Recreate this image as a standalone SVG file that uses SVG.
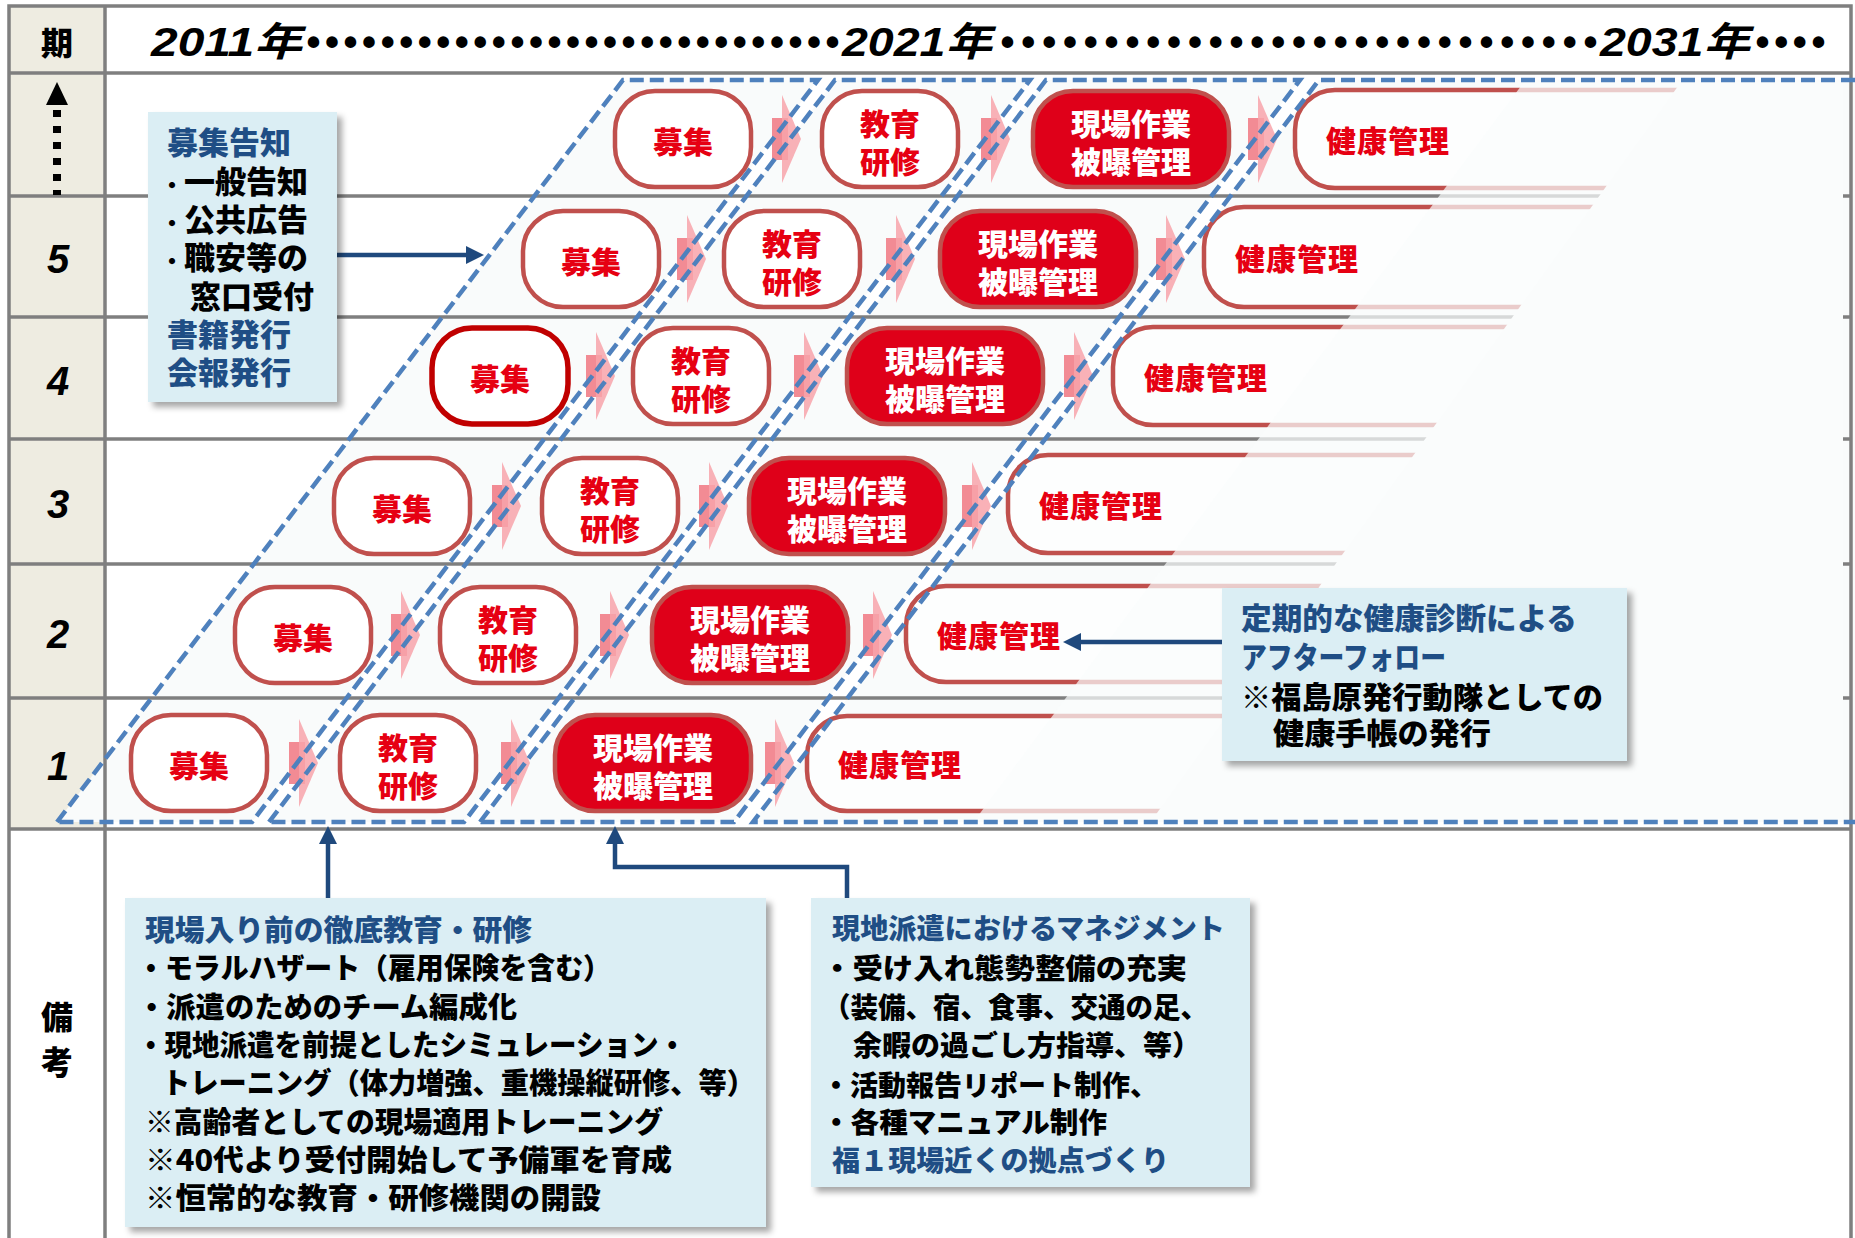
<svg xmlns="http://www.w3.org/2000/svg" width="1855" height="1238" viewBox="0 0 1855 1238">
<defs>
<style>
.grid{stroke:#7f7f7f;stroke-width:3.5;fill:none}
.nd{fill:#ffffff;stroke:#c0504d;stroke-width:4.5}
.nd4{fill:#ffffff;stroke:#c00000;stroke-width:5.5}
.ndr{fill:#df0019;stroke:#c0504d;stroke-width:4.5}
.hs{fill:#fdfefe;stroke:#c0504d;stroke-width:4.5}
.nt{font-family:"Noto Sans CJK JP","Noto Sans CJK SC",sans-serif;font-weight:900;font-size:30px;fill:#e60012;text-anchor:middle}
.nw{fill:#ffffff}
.ht{font-family:"Noto Sans CJK JP","Noto Sans CJK SC",sans-serif;font-weight:900;font-size:30px;fill:#e60012;letter-spacing:1px}
.dash{fill:none;stroke:#4f81bd;stroke-width:4.5;stroke-dasharray:14 6}
.pfill{fill:#f9fbfb}
.co{fill:#dbeef4;filter:url(#sh)}
.ct{font-family:"Noto Sans CJK JP","Noto Sans CJK SC",sans-serif;font-weight:900;fill:#000000}
.cb{fill:#1f4e85}
.conn{fill:none;stroke:#1f497d;stroke-width:4.5}
.yr{font-family:"Liberation Sans","Noto Sans CJK JP",sans-serif;font-weight:700;font-style:italic;font-size:40px;fill:#000000}
.num{font-family:"Liberation Sans",sans-serif;font-weight:700;font-style:italic;font-size:40px;fill:#000000;text-anchor:middle}
.lbl{font-family:"Noto Sans CJK JP","Noto Sans CJK SC",sans-serif;font-weight:900;font-size:32px;fill:#000000;text-anchor:middle}
</style>
<filter id="sh" x="-5%" y="-5%" width="115%" height="120%">
<feDropShadow dx="5" dy="5" stdDeviation="3" flood-color="#000000" flood-opacity="0.35"/>
</filter>
<marker id="ah" viewBox="0 0 18 18" refX="6" refY="9" markerWidth="18" markerHeight="18" markerUnits="userSpaceOnUse" orient="auto">
<path d="M0,0 L18,9 L0,18 Z" fill="#1f497d"/>
</marker>
<g id="parr">
<rect x="-14" y="-21" width="16" height="42" fill="#f28b94"/>
<polygon points="-4,-44 15,0 -4,44" fill="#f8a3aa" fill-opacity="0.85"/>
</g>
</defs>

<rect x="0" y="0" width="1855" height="1238" fill="#ffffff"/>
<rect x="9" y="6" width="96" height="823" fill="#eeece1"/>

<g id="bands-fill">
<polygon class="pfill" points="57,822 623,80 818,80 252,822"/>
<polygon class="pfill" points="269,822 835,80 1030,80 464,822"/>
<polygon class="pfill" points="480,822 1046,80 1300,80 734,822"/>
<polygon class="pfill" points="753,822 1319,80 1855,80 1855,822"/>
</g>

<g id="grid">
<rect class="grid" x="9" y="6" width="1842" height="1245"/>
<line class="grid" x1="105" y1="6" x2="105" y2="1238"/>
<line class="grid" x1="9" y1="73" x2="1851" y2="73"/>
<line class="grid" x1="9" y1="196" x2="1851" y2="196"/>
<line class="grid" x1="9" y1="317" x2="1851" y2="317"/>
<line class="grid" x1="9" y1="439" x2="1851" y2="439"/>
<line class="grid" x1="9" y1="564" x2="1851" y2="564"/>
<line class="grid" x1="9" y1="698" x2="1851" y2="698"/>
<line class="grid" x1="9" y1="829" x2="1851" y2="829"/>
</g>

<g id="header">
<text class="lbl" x="57" y="55">期</text>
<text class="yr" x="151" y="56" textLength="151" lengthAdjust="spacingAndGlyphs">2011年</text>
<text class="yr" x="306" y="56" textLength="533" lengthAdjust="spacing">•••••••••••••••••••••••••••••</text>
<text class="yr" x="842" y="56" textLength="150" lengthAdjust="spacingAndGlyphs">2021年</text>
<text class="yr" x="1000" y="56" textLength="597" lengthAdjust="spacing">•••••••••••••••••••••••••••••</text>
<text class="yr" x="1600" y="56" textLength="150" lengthAdjust="spacingAndGlyphs">2031年</text>
<text class="yr" x="1755" y="56" textLength="70" lengthAdjust="spacing">••••</text>
</g>

<g id="period-labels">
<polygon points="57,82 46,105 68,105" fill="#000000"/>
<line x1="57" y1="110" x2="57" y2="195" stroke="#000000" stroke-width="8" stroke-dasharray="7 9"/>
<text class="num" x="58" y="273">5</text>
<text class="num" x="58" y="395">4</text>
<text class="num" x="58" y="518">3</text>
<text class="num" x="58" y="648">2</text>
<text class="num" x="58" y="780">1</text>
<text class="lbl" x="57" y="1029" font-size="34">備</text>
<text class="lbl" x="57" y="1074" font-size="34">考</text>
</g>

<!-- Row 6 -->
<g id="r6-boshu"><rect class="nd" x="615" y="91" width="136" height="96" rx="40"/><text class="nt" x="683" y="153">募集</text></g>
<g id="r6-kyoiku"><rect class="nd" x="822" y="91" width="136" height="96" rx="40"/><text class="nt" x="890" y="135">教育</text><text class="nt" x="890" y="173">研修</text></g>
<g id="r6-genba"><rect class="ndr" x="1033" y="91" width="196" height="96" rx="40"/><text class="nt nw" x="1131" y="135">現場作業</text><text class="nt nw" x="1131" y="173">被曝管理</text></g>
<g id="r6-kenko"><path class="hs" d="M1843,90 H1335 A40,40 0 0 0 1295,130 V148 A40,40 0 0 0 1335,188 H1843"/><text class="ht" x="1326" y="152">健康管理</text></g>

<!-- Row 5 -->
<g id="r5-boshu"><rect class="nd" x="523" y="211" width="136" height="96" rx="40"/><text class="nt" x="591" y="273">募集</text></g>
<g id="r5-kyoiku"><rect class="nd" x="724" y="211" width="136" height="96" rx="40"/><text class="nt" x="792" y="255">教育</text><text class="nt" x="792" y="293">研修</text></g>
<g id="r5-genba"><rect class="ndr" x="940" y="211" width="196" height="96" rx="40"/><text class="nt nw" x="1038" y="255">現場作業</text><text class="nt nw" x="1038" y="293">被曝管理</text></g>
<g id="r5-kenko"><path class="hs" d="M1843,207 H1244 A40,40 0 0 0 1204,247 V267 A40,40 0 0 0 1244,307 H1843"/><text class="ht" x="1235" y="270">健康管理</text></g>

<!-- Row 4 -->
<g id="r4-boshu"><rect class="nd4" x="432" y="328" width="136" height="96" rx="40"/><text class="nt" x="500" y="390">募集</text></g>
<g id="r4-kyoiku"><rect class="nd" x="633" y="328" width="136" height="96" rx="40"/><text class="nt" x="701" y="372">教育</text><text class="nt" x="701" y="410">研修</text></g>
<g id="r4-genba"><rect class="ndr" x="847" y="328" width="196" height="96" rx="40"/><text class="nt nw" x="945" y="372">現場作業</text><text class="nt nw" x="945" y="410">被曝管理</text></g>
<g id="r4-kenko"><path class="hs" d="M1843,327 H1153 A40,40 0 0 0 1113,367 V385 A40,40 0 0 0 1153,425 H1843"/><text class="ht" x="1144" y="389">健康管理</text></g>

<!-- Row 3 -->
<g id="r3-boshu"><rect class="nd" x="334" y="458" width="136" height="96" rx="40"/><text class="nt" x="402" y="520">募集</text></g>
<g id="r3-kyoiku"><rect class="nd" x="542" y="458" width="136" height="96" rx="40"/><text class="nt" x="610" y="502">教育</text><text class="nt" x="610" y="540">研修</text></g>
<g id="r3-genba"><rect class="ndr" x="749" y="458" width="196" height="96" rx="40"/><text class="nt nw" x="847" y="502">現場作業</text><text class="nt nw" x="847" y="540">被曝管理</text></g>
<g id="r3-kenko"><path class="hs" d="M1843,455 H1048 A40,40 0 0 0 1008,495 V513 A40,40 0 0 0 1048,553 H1843"/><text class="ht" x="1039" y="517">健康管理</text></g>

<!-- Row 2 -->
<g id="r2-boshu"><rect class="nd" x="235" y="587" width="136" height="96" rx="40"/><text class="nt" x="303" y="649">募集</text></g>
<g id="r2-kyoiku"><rect class="nd" x="440" y="587" width="136" height="96" rx="40"/><text class="nt" x="508" y="631">教育</text><text class="nt" x="508" y="669">研修</text></g>
<g id="r2-genba"><rect class="ndr" x="652" y="587" width="196" height="96" rx="40"/><text class="nt nw" x="750" y="631">現場作業</text><text class="nt nw" x="750" y="669">被曝管理</text></g>
<g id="r2-kenko"><path class="hs" d="M1843,586 H946 A40,40 0 0 0 906,626 V642 A40,40 0 0 0 946,682 H1843"/><text class="ht" x="937" y="647">健康管理</text></g>

<!-- Row 1 -->
<g id="r1-boshu"><rect class="nd" x="131" y="715" width="136" height="96" rx="40"/><text class="nt" x="199" y="777">募集</text></g>
<g id="r1-kyoiku"><rect class="nd" x="340" y="715" width="136" height="96" rx="40"/><text class="nt" x="408" y="759">教育</text><text class="nt" x="408" y="797">研修</text></g>
<g id="r1-genba"><rect class="ndr" x="555" y="715" width="196" height="96" rx="40"/><text class="nt nw" x="653" y="759">現場作業</text><text class="nt nw" x="653" y="797">被曝管理</text></g>
<g id="r1-kenko"><path class="hs" d="M1843,716 H847 A40,40 0 0 0 807,756 V771 A40,40 0 0 0 847,811 H1843"/><text class="ht" x="838" y="776">健康管理</text></g>

<g id="fade">
<polygon points="1524,82 1843,82 1843,820 975,820" fill="#fafcfc" fill-opacity="0.72"/>
<polygon points="1681,82 1843,82 1843,820 1152,820" fill="#fafcfc"/>
</g>

<g id="connectors">
<use href="#parr" x="786" y="139"/><use href="#parr" x="995" y="139"/><use href="#parr" x="1262" y="139"/>
<use href="#parr" x="691" y="259"/><use href="#parr" x="900" y="259"/><use href="#parr" x="1170" y="259"/>
<use href="#parr" x="600" y="376"/><use href="#parr" x="808" y="376"/><use href="#parr" x="1078" y="376"/>
<use href="#parr" x="506" y="506"/><use href="#parr" x="713" y="506"/><use href="#parr" x="976" y="506"/>
<use href="#parr" x="405" y="635"/><use href="#parr" x="614" y="635"/><use href="#parr" x="877" y="635"/>
<use href="#parr" x="303" y="763"/><use href="#parr" x="515" y="763"/><use href="#parr" x="779" y="763"/>
<path class="conn" d="M337,255 H472" marker-end="url(#ah)"/>
<path class="conn" d="M1222,642 H1075" marker-end="url(#ah)"/>
<path class="conn" d="M328,899 V838" marker-end="url(#ah)"/>
<path class="conn" d="M847,899 V867 H615 V838" marker-end="url(#ah)"/>
</g>

<g id="bands">
<path class="dash" d="M57,822 L623,80 L818,80 L252,822 Z"/>
<path class="dash" d="M269,822 L835,80 L1030,80 L464,822 Z"/>
<path class="dash" d="M480,822 L1046,80 L1300,80 L734,822 Z"/>
<path class="dash" d="M1855,80 L1319,80 L753,822 L1855,822"/>
</g>

<g id="note-boshu">
<rect class="co" x="148" y="112" width="189" height="290"/>
<text class="ct cb" x="167" y="154" font-size="31">募集告知</text>
<text class="ct" y="193" font-size="31"><tspan x="161" font-size="22">・</tspan><tspan x="184">一般告知</tspan></text>
<text class="ct" y="231" font-size="31"><tspan x="161" font-size="22">・</tspan><tspan x="184">公共広告</tspan></text>
<text class="ct" y="269" font-size="31"><tspan x="161" font-size="22">・</tspan><tspan x="184">職安等の</tspan></text>
<text class="ct" x="190" y="308" font-size="31">窓口受付</text>
<text class="ct cb" x="167" y="346" font-size="31">書籍発行</text>
<text class="ct cb" x="167" y="384" font-size="31">会報発行</text>
</g>

<g id="note-kenko">
<rect class="co" x="1222" y="588" width="405" height="173"/>
<text class="ct cb" x="1241" y="629" font-size="30" textLength="336" lengthAdjust="spacingAndGlyphs">定期的な健康診断による</text>
<text class="ct cb" x="1241" y="668" font-size="30" textLength="205" lengthAdjust="spacingAndGlyphs">アフターフォロー</text>
<text class="ct" x="1241" y="708" font-size="30" textLength="362" lengthAdjust="spacingAndGlyphs">※福島原発行動隊としての</text>
<text class="ct" x="1273" y="744" font-size="30" textLength="218" lengthAdjust="spacingAndGlyphs">健康手帳の発行</text>
</g>

<g id="note-kyoiku">
<rect class="co" x="125" y="898" width="641" height="329"/>
<text class="ct cb" x="145" y="941" font-size="29" textLength="387" lengthAdjust="spacingAndGlyphs">現場入り前の徹底教育・研修</text>
<text class="ct" x="137" y="979" font-size="29" textLength="474" lengthAdjust="spacingAndGlyphs">・モラルハザート（雇用保険を含む）</text>
<text class="ct" x="137" y="1018" font-size="29" textLength="380" lengthAdjust="spacingAndGlyphs">・派遣のためのチーム編成化</text>
<text class="ct" x="137" y="1056" font-size="29" textLength="549" lengthAdjust="spacingAndGlyphs">・現地派遣を前提としたシミュレーション・</text>
<text class="ct" x="162" y="1094" font-size="29" textLength="593" lengthAdjust="spacingAndGlyphs">トレーニング（体力増強、重機操縦研修、等）</text>
<text class="ct" x="145" y="1133" font-size="29" textLength="518" lengthAdjust="spacingAndGlyphs">※高齢者としての現場適用トレーニング</text>
<text class="ct" x="145" y="1171" font-size="29" textLength="527" lengthAdjust="spacingAndGlyphs">※40代より受付開始して予備軍を育成</text>
<text class="ct" x="145" y="1209" font-size="29" textLength="456" lengthAdjust="spacingAndGlyphs">※恒常的な教育・研修機関の開設</text>
</g>

<g id="note-genchi">
<rect class="co" x="811" y="898" width="439" height="289"/>
<text class="ct cb" x="832" y="939" font-size="28" textLength="393" lengthAdjust="spacingAndGlyphs">現地派遣におけるマネジメント</text>
<text class="ct" x="822" y="979" font-size="28" textLength="365" lengthAdjust="spacingAndGlyphs">・受け入れ態勢整備の充実</text>
<text class="ct" x="823" y="1018" font-size="28" textLength="385" lengthAdjust="spacingAndGlyphs">（装備、宿、食事、交通の足、</text>
<text class="ct" x="853" y="1056" font-size="28" textLength="348" lengthAdjust="spacingAndGlyphs">余暇の過ごし方指導、等）</text>
<text class="ct" x="822" y="1096" font-size="28" textLength="336" lengthAdjust="spacingAndGlyphs">・活動報告リポート制作、</text>
<text class="ct" x="822" y="1133" font-size="28" textLength="285" lengthAdjust="spacingAndGlyphs">・各種マニュアル制作</text>
<text class="ct cb" x="832" y="1171" font-size="28" textLength="337" lengthAdjust="spacingAndGlyphs">福１現場近くの拠点づくり</text>
</g>
</svg>
